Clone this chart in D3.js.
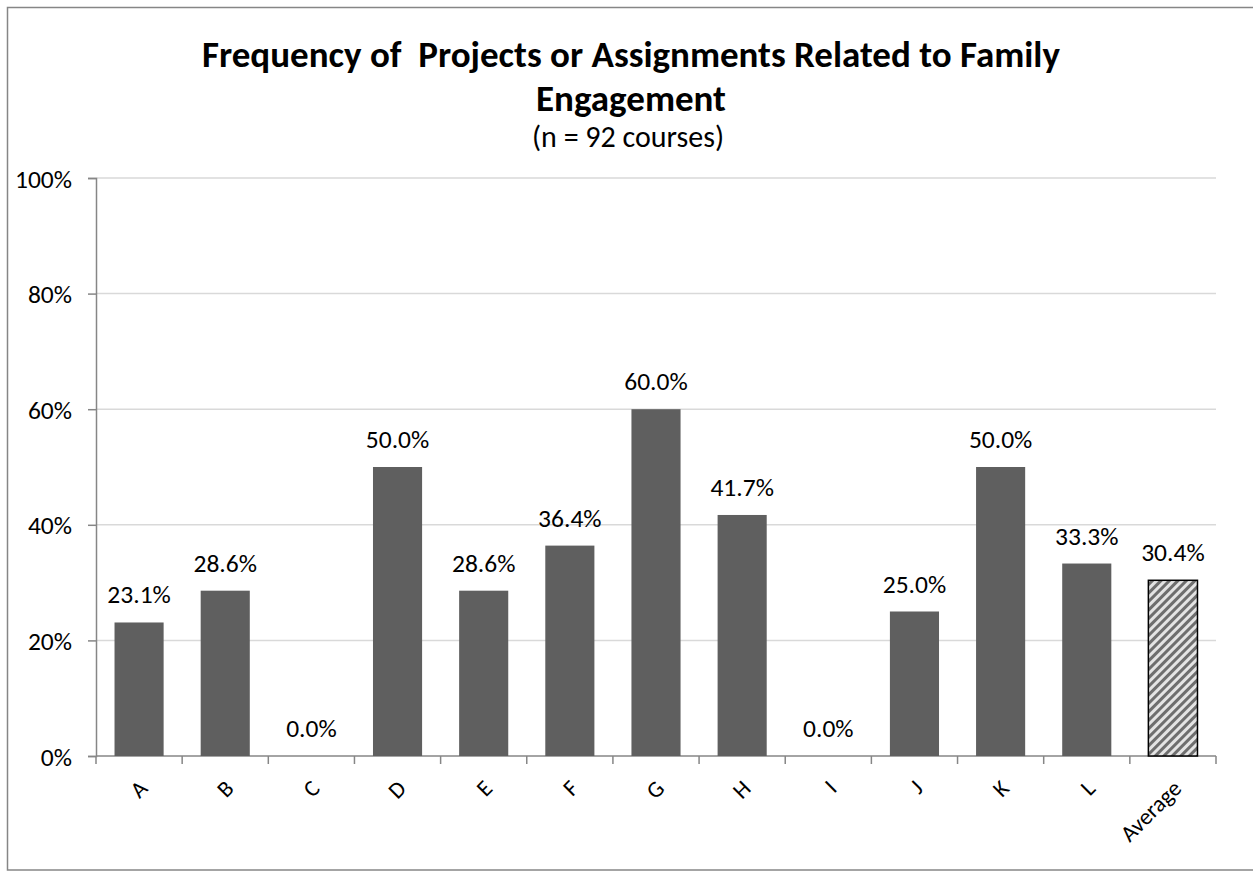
<!DOCTYPE html>
<html><head><meta charset="utf-8">
<script src="https://cdn.jsdelivr.net/npm/d3@7"></script>
<style>body{margin:0;background:#fff}svg{display:block}text{font-family:Carlito,Lato,"Open Sans",sans-serif;white-space:pre}</style>
</head><body>
<svg id="c" width="1253" height="871"></svg>
<script>
const categories = ["A","B","C","D","E","F","G","H","I","J","K","L","Average"];
const values = [23.1,28.6,0.0,50.0,28.6,36.4,60.0,41.7,0.0,25.0,50.0,33.3,30.4];
const yTicks = [0,20,40,60,80,100];
const titleLines = ["Frequency of  Projects or Assignments Related to Family","Engagement"];
const subtitle = "(n = 92 courses)";

const svg = d3.select("#c");
const m = {l:96, r:1216, t:178, b:756};
const x = d3.scaleBand().domain(categories).range([m.l,m.r]).paddingInner(0.43).paddingOuter(0.215);
const xb = d3.scaleBand().domain(categories).range([m.l,m.r]);
const y = d3.scaleLinear().domain([0,100]).range([m.b,m.t]);

const defs = svg.append("defs");
const pat = defs.append("pattern").attr("id","hatch").attr("patternUnits","userSpaceOnUse")
  .attr("width",6).attr("height",6).attr("patternTransform","rotate(-45)");
pat.append("rect").attr("width",6).attr("height",6).attr("fill","#e4e4e4");
pat.append("rect").attr("width",6).attr("height",3).attr("fill","#6e6e6e");

svg.append("rect").attr("x",7.5).attr("y",7.5).attr("width",1260).attr("height",862.5)
  .attr("fill","#fff").attr("stroke","#868686").attr("stroke-width",1.5);

// gridlines
svg.append("g").selectAll("line").data(yTicks.filter(d=>d>0)).join("line")
  .attr("x1",m.l).attr("x2",m.r).attr("y1",d=>y(d)).attr("y2",d=>y(d))
  .attr("stroke","#d9d9d9").attr("stroke-width",1.5);

// y axis
const ya = svg.append("g").attr("transform",`translate(${m.l},0)`)
  .call(d3.axisLeft(y).tickValues(yTicks).tickFormat(d=>d+"%").tickSize(8).tickPadding(16));
ya.select(".domain").attr("stroke","#868686").attr("stroke-width",1.5);
ya.selectAll(".tick line").attr("stroke","#868686").attr("stroke-width",1.5);
ya.selectAll("text").attr("font-size",25.5).attr("fill","#000").attr("dy","0.36em");

// x axis
const xg = svg.append("g").attr("transform",`translate(0,${m.b})`);
xg.append("line").attr("x1",m.l).attr("x2",m.r).attr("stroke","#868686").attr("stroke-width",1.5);
const bounds = categories.map(c=>xb(c)).concat([m.r]);
xg.selectAll("line.t").data(bounds).join("line").attr("class","t")
  .attr("x1",d=>d).attr("x2",d=>d).attr("y1",0).attr("y2",8)
  .attr("stroke","#868686").attr("stroke-width",1.5);
xg.selectAll("text").data(categories).join("text")
  .attr("transform",d=>`translate(${xb(d)+xb.bandwidth()/2+6},${30}) rotate(-45)`)
  .attr("text-anchor","end").attr("dominant-baseline","middle")
  .attr("font-size",23).attr("fill","#000").text(d=>d);

// bars
svg.append("g").selectAll("rect").data(categories).join("rect")
  .attr("x",d=>x(d)).attr("width",x.bandwidth())
  .attr("y",(d,i)=>y(values[i])).attr("height",(d,i)=>m.b-y(values[i]))
  .attr("fill",d=>d==="Average"?"url(#hatch)":"#5f5f5f")
  .attr("stroke",d=>d==="Average"?"#000":"none").attr("stroke-width",1.5);

// labels
svg.append("g").selectAll("text").data(categories).join("text")
  .attr("x",d=>x(d)+x.bandwidth()/2).attr("y",(d,i)=>y(values[i])-19)
  .attr("text-anchor","middle").attr("font-size",25.5).attr("fill","#000")
  .text((d,i)=>values[i].toFixed(1)+"%");

// title
svg.append("g").selectAll("text").data(titleLines).join("text")
  .attr("x",631).attr("y",(d,i)=>67+i*44).attr("text-anchor","middle")
  .attr("font-size",37).attr("font-weight","bold").attr("fill","#000").text(d=>d);
svg.append("text").attr("x",628).attr("y",147).attr("text-anchor","middle")
  .attr("font-size",30).attr("fill","#000").text(subtitle);
</script>
</body></html>
